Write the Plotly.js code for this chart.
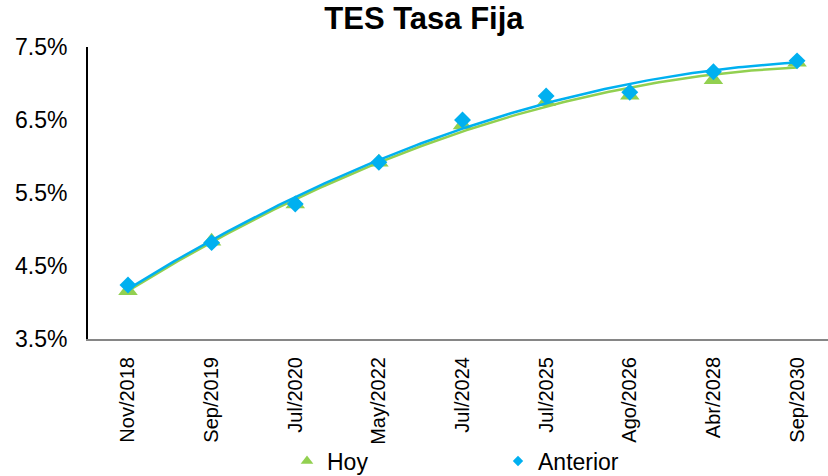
<!DOCTYPE html>
<html>
<head>
<meta charset="utf-8">
<script src="https://cdn.plot.ly/plotly-3.0.1.min.js"></script>
<style>
html,body{margin:0;padding:0;background:#fff;overflow:hidden;}
#chart{width:828px;height:476px;}
</style>
</head>
<body>
<div id="chart"></div>
<script>
var categories = ["Nov/2018","Sep/2019","Jul/2020","May/2022","Jul/2024","Jul/2025","Ago/2026","Abr/2028","Sep/2030"];
var hoy = [4.16, 4.84, 5.35, 5.92, 6.43, 6.75, 6.84, 7.05, 7.29];
var anterior = [4.24, 4.82, 5.35, 5.92, 6.50, 6.83, 6.88, 7.16, 7.31];
var yTicks = [3.5, 4.5, 5.5, 6.5, 7.5];
var yTickText = ["3.5%", "4.5%", "5.5%", "6.5%", "7.5%"];

var idx = categories.map(function(_, i){ return i; });

// Quadratic least-squares trendline (like Excel polynomial order 2)
function polyFit2(ys){
  var n = ys.length, s = [0,0,0,0,0], t = [0,0,0];
  for (var i = 0; i < n; i++){
    var x = i + 1, p = 1;
    for (var k = 0; k < 5; k++){ s[k] += p; p *= x; }
    t[0] += ys[i]; t[1] += ys[i]*x; t[2] += ys[i]*x*x;
  }
  var A = [[s[0],s[1],s[2],t[0]],[s[1],s[2],s[3],t[1]],[s[2],s[3],s[4],t[2]]];
  for (var c = 0; c < 3; c++){
    for (var r = c+1; r < 3; r++){
      var f = A[r][c]/A[c][c];
      for (var j = c; j < 4; j++) A[r][j] -= f*A[c][j];
    }
  }
  var b = [0,0,0];
  for (var r2 = 2; r2 >= 0; r2--){
    var v = A[r2][3];
    for (var j2 = r2+1; j2 < 3; j2++) v -= A[r2][j2]*b[j2];
    b[r2] = v/A[r2][r2];
  }
  return b;
}
function trend(ys){
  var b = polyFit2(ys), xs = [], vs = [];
  var n = ys.length;
  for (var k = 0; k <= 160; k++){
    var xi = (n-1)*k/160;
    var x = xi + 1;
    xs.push(xi); vs.push(b[0] + b[1]*x + b[2]*x*x);
  }
  return {x: xs, y: vs};
}
var tH = trend(hoy), tA = trend(anterior);

var green = "#92D050", blue = "#00B0F0";
var font = "Liberation Sans, Arial, sans-serif";

var traces = [
  {x: tH.x, y: tH.y, mode: "lines", line: {color: green, width: 2.5}, showlegend: false, hoverinfo: "skip"},
  {x: idx, y: hoy, mode: "markers", name: "Hoy", marker: {symbol: "triangle-up", size: 17, color: green}, showlegend: false},
  {x: tA.x, y: tA.y, mode: "lines", line: {color: blue, width: 2.5}, showlegend: false, hoverinfo: "skip"},
  {x: idx, y: anterior, mode: "markers", name: "Anterior", marker: {symbol: "diamond", size: 13, color: blue}, showlegend: false},
  {x: [null], y: [null], mode: "markers", name: "Hoy", marker: {symbol: "triangle-up", size: 11, color: green}},
  {x: [null], y: [null], mode: "markers", name: "Anterior", marker: {symbol: "diamond", size: 8, color: blue}}
];

var layout = {
  width: 828, height: 476,
  margin: {l: 88, r: 0, t: 47, b: 137},
  paper_bgcolor: "#fff", plot_bgcolor: "#fff",
  font: {family: font, color: "#000"},
  title: {text: "<b>TES Tasa Fija</b>", font: {family: font, size: 31, color: "#000"},
          x: 0.512, xanchor: "center", xref: "container", y: 0.962, yanchor: "middle", yref: "container"},
  xaxis: {
    range: [-0.478, 8.37], showgrid: false, zeroline: false,
    tickmode: "array", tickvals: idx, ticktext: categories, tickangle: -90,
    tickfont: {family: font, size: 20, color: "#000"},
    showline: true, linecolor: "#868686", linewidth: 2, ticks: "", ticklabelstandoff: 8
  },
  yaxis: {
    range: [3.5, 7.5], showgrid: false, zeroline: false,
    tickmode: "array", tickvals: yTicks, ticktext: yTickText,
    tickfont: {family: font, size: 23, color: "#000"},
    showline: true, linecolor: "#000", linewidth: 2, ticks: "", ticklabelstandoff: 14
  },
  legend: {
    orientation: "h", xref: "container", yref: "container",
    x: 287/828, xanchor: "left", y: 1 - 461/476, yanchor: "middle",
    font: {family: font, size: 23, color: "#000"},
    entrywidth: 166, entrywidthmode: "pixels", bgcolor: "rgba(0,0,0,0)"
  },
  showlegend: true
};

Plotly.newPlot("chart", traces, layout, {displayModeBar: false, staticPlot: true});
</script>
</body>
</html>
